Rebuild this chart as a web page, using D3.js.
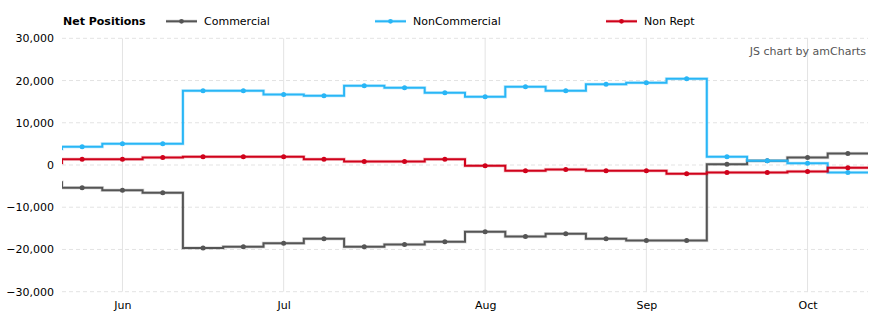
<!DOCTYPE html>
<html>
<head>
<meta charset="utf-8">
<script src="https://cdn.jsdelivr.net/npm/d3@7/dist/d3.min.js"></script>
<style>
  html, body { margin: 0; padding: 0; background: #fff; }
  svg { display: block; font-family: "DejaVu Sans", Verdana, sans-serif; }
</style>
</head>
<body>
<svg id="chart" width="889" height="325"></svg>
<script>
// ---- data (first week lies just left of the visible area) ----
const weeks = ["2013-05-21","2013-05-28","2013-06-04","2013-06-11","2013-06-18","2013-06-25",
               "2013-07-02","2013-07-09","2013-07-16","2013-07-23","2013-07-30",
               "2013-08-06","2013-08-13","2013-08-20","2013-08-27",
               "2013-09-03","2013-09-10","2013-09-17","2013-09-24",
               "2013-10-01","2013-10-08"];
const commercial    = [-4100,-5400,-6000,-6550,-19650,-19350,-18550,-17450,-19350,-18850,-18150,
                       -15800,-16950,-16250,-17450,-17900,-17900,200,1000,1800,2700];
const nonCommercial = [3800,4350,5050,5050,17600,17600,16700,16400,18750,18300,17100,
                       16150,18550,17600,19100,19500,20400,1950,1000,400,-1800];
const nonReportable = [500,1350,1350,1750,1950,1950,1950,1350,800,800,1350,
                       -150,-1350,-1050,-1350,-1350,-2050,-1800,-1800,-1550,-650];
const seriesNames = ["Commercial","NonCommercial","Non Rept"];
const seriesColors = ["#555555","#29b6f6","#d0021b"];
const monthTickWeeks = ["2013-06-04","2013-07-02","2013-08-06","2013-09-03","2013-10-01"];
const monthTickLabels = ["Jun","Jul","Aug","Sep","Oct"];
const yTicks = [-30000,-20000,-10000,0,10000,20000,30000];
const legendTitle = "Net Positions";
const creditText = "JS chart by amCharts";

// ---- layout ----
const svg = d3.select("#chart");
const plotL = 62, plotR = 868, plotT = 38.3, plotB = 291.7;
const visibleCount = weeks.length - 1;
const step = (plotR - plotL) / visibleCount;

const x = d3.scalePoint().domain(weeks).range([plotL - step / 2, plotR - step / 2]);
const y = d3.scaleLinear().domain([-30000, 30000]).range([plotB, plotT]);

svg.append("defs").append("clipPath").attr("id", "clip")
  .append("rect").attr("x", plotL).attr("y", plotT - 10).attr("width", plotR - plotL).attr("height", plotB - plotT + 20);

// horizontal dashed grid
svg.append("g").selectAll("line").data(yTicks).join("line")
  .attr("x1", plotL).attr("x2", plotR)
  .attr("y1", d => y(d)).attr("y2", d => y(d))
  .attr("stroke", "#e3e3e3").attr("stroke-width", 1).attr("stroke-dasharray", "4,3");

// vertical grid
svg.append("g").selectAll("line").data(monthTickWeeks).join("line")
  .attr("x1", d => x(d)).attr("x2", d => x(d))
  .attr("y1", plotT).attr("y2", plotB)
  .attr("stroke", "#e3e3e3").attr("stroke-width", 1);

// y axis
const yAxis = svg.append("g").attr("transform", `translate(${plotL},0)`)
  .call(d3.axisLeft(y).tickValues(yTicks).tickFormat(d3.format(",")).tickSize(0).tickPadding(8));
yAxis.select(".domain").remove();
yAxis.selectAll("text").attr("font-size", 11).attr("fill", "#000").attr("font-family", "DejaVu Sans, Verdana, sans-serif");

// x axis
const xAxis = svg.append("g").attr("transform", `translate(0,${plotB})`)
  .call(d3.axisBottom(x).tickValues(monthTickWeeks)
    .tickFormat(d => monthTickLabels[monthTickWeeks.indexOf(d)]).tickSize(0).tickPadding(10));
xAxis.select(".domain").remove();
xAxis.selectAll("text").attr("font-size", 11).attr("fill", "#000").attr("font-family", "DejaVu Sans, Verdana, sans-serif");

// credit
svg.append("text").attr("x", 866).attr("y", 55).attr("text-anchor", "end")
  .attr("font-size", 11).attr("fill", "#555").text(creditText);

// series
const allSeries = [commercial, nonCommercial, nonReportable];
const line = d3.line().x((d, i) => x(weeks[i])).y(d => y(d)).curve(d3.curveStep);
const plot = svg.append("g").attr("clip-path", "url(#clip)");

allSeries.forEach((vals, si) => {
  const path = line(vals) + "H" + plotR;
  const g = plot.append("g");
  g.append("path").attr("d", path).attr("fill", "none")
    .attr("stroke", seriesColors[si]).attr("stroke-opacity", 0.2).attr("stroke-width", 3.5);
  g.append("path").attr("d", path).attr("fill", "none")
    .attr("stroke", seriesColors[si]).attr("stroke-width", 2);
  g.selectAll("circle").data(vals.slice(1)).join("circle")
    .attr("cx", (d, i) => x(weeks[i + 1])).attr("cy", d => y(d)).attr("r", 2.5)
    .attr("fill", seriesColors[si]);
});

// legend
svg.append("text").attr("x", 63).attr("y", 25).attr("font-size", 11).attr("font-weight", "bold")
  .attr("fill", "#000").text(legendTitle);
const legendX = [166, 375, 606];
seriesNames.forEach((name, i) => {
  const g = svg.append("g").attr("transform", `translate(${legendX[i]},21.3)`);
  g.append("line").attr("x1", 0).attr("x2", 31).attr("y1", 0).attr("y2", 0)
    .attr("stroke", seriesColors[i]).attr("stroke-opacity", 0.2).attr("stroke-width", 3.5);
  g.append("line").attr("x1", 0).attr("x2", 31).attr("y1", 0).attr("y2", 0)
    .attr("stroke", seriesColors[i]).attr("stroke-width", 2);
  g.append("circle").attr("cx", 15.5).attr("cy", 0).attr("r", 2.4).attr("fill", seriesColors[i]);
  g.append("text").attr("x", 38).attr("y", 3.8).attr("font-size", 11).attr("fill", "#000").text(name);
});
</script>
</body>
</html>
